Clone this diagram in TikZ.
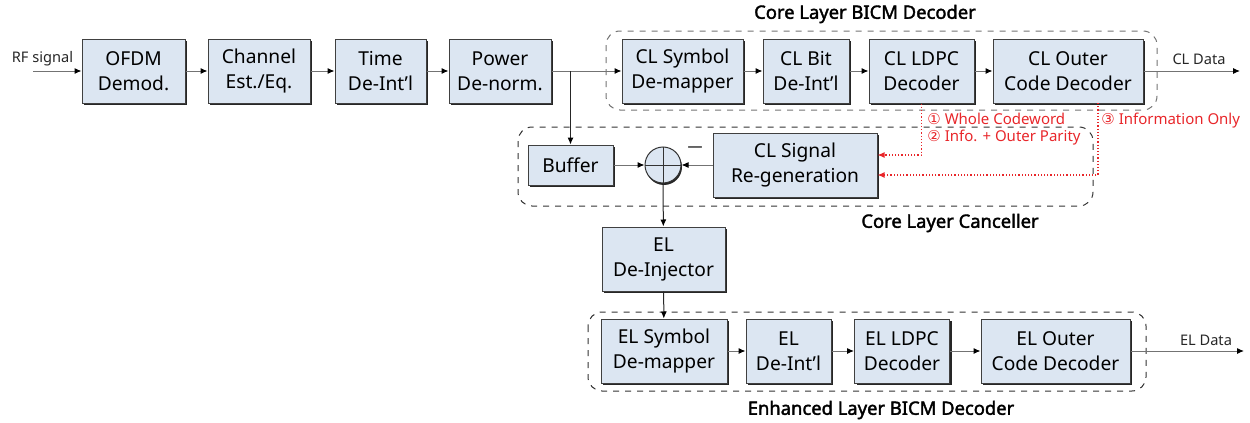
\documentclass[tikz,border=0pt]{standalone}
\usepackage{fontspec}
\setmainfont{Noto Sans}
\newfontfamily\circfont{DejaVu Sans}
\newfontfamily\titlefont{Noto Sans}[FakeBold=2]
\usetikzlibrary{arrows.meta,shadows,calc}
\definecolor{boxfill}{HTML}{DCE6F2}
\definecolor{fbred}{HTML}{E8262A}

\begin{document}
\begin{tikzpicture}[x=0.5pt,y=-0.5pt,
  box/.style={draw=black!75,fill=boxfill,line width=0.5pt,align=center,
    inner sep=0pt,minimum height=32pt,font=\fontsize{9.6}{12.5}\selectfont,
    drop shadow={shadow xshift=1pt,shadow yshift=-1pt,fill=black!85,opacity=1}},
  bw/.style={minimum width=#1*0.5pt},
  group/.style={draw=black!80,dashed,rounded corners=7pt,line width=0.5pt},
  sig/.style={draw=black!55,line width=0.5pt,-{Latex[length=3.5pt,width=3pt,color=black]}},
  lbl/.style={font=\fontsize{7.3}{9}\selectfont,text=black!85},
  title/.style={font=\titlefont\fontsize{9.2}{11}\selectfont},
  fb/.style={draw=fbred,densely dotted,line width=0.6pt,-{Latex[length=3.5pt,width=3pt]}},
  fblbl/.style={font=\fontsize{7.5}{9}\selectfont,text=fbred,anchor=west,inner sep=0pt}]
\useasboundingbox (0,0) rectangle (1250,423);

% dashed groups
\draw[group,draw=black!55] (606,31) rectangle (1157,110);
\draw[group] (518,127) rectangle (1093,206);
\draw[group] (588,312) rectangle (1146,391);
\node[title] (cltitle) at (865,14) {Core Layer BICM Decoder};
\node[title] (canctitle) at (950,223) {Core Layer Canceller};
\node[title] (eltitle) at (881,410) {Enhanced Layer BICM Decoder};

% front end
\node[box,bw=103] (ofdm) at (133.5,71) {OFDM\\Demod.};
\node[box,bw=102] (chest) at (259,71) {Channel\\Est./Eq.};
\node[box,bw=91] (tdeint) at (380.5,71) {Time\\De-Int'l};
\node[box,bw=102] (pdenorm) at (500,71) {Power\\De-norm.};

% core layer BICM
\node[box,bw=121] (clsym) at (682.5,71) {CL Symbol\\De-mapper};
\node[box,bw=86] (clbit) at (806,71) {CL Bit\\De-Int'l};
\node[box,bw=105] (clldpc) at (921.5,71) {CL LDPC\\Decoder};
\node[box,bw=150] (clouter) at (1068,71) {CL Outer\\Code Decoder};

% canceller
\node[box,bw=85,minimum height=20pt] (buffer) at (570.5,165) {Buffer};
\node[circle,draw=black!80,fill=boxfill,line width=0.5pt,minimum size=18pt,
  inner sep=0pt,drop shadow={shadow xshift=0.5pt,shadow yshift=-1pt,
  fill=black!85,opacity=1}] (sum) at (663,165) {};
\draw[black!80,line width=0.5pt] (sum.north) -- (sum.south) (sum.west) -- (sum.east);
\node[font=\fontsize{7.5}{9}\selectfont] (minus) at (695,149) {---};
\node[box,bw=164] (clregen) at (795,165) {CL Signal\\Re-generation};
\node[box,bw=123] (eldeinj) at (663.5,259) {EL\\De-Injector};

% enhanced layer BICM
\node[box,bw=126] (elsym) at (664,351) {EL Symbol\\De-mapper};
\node[box,bw=85] (eldeint) at (788.5,351) {EL\\De-Int'l};
\node[box,bw=95] (elldpc) at (902,351) {EL LDPC\\Decoder};
\node[box,bw=149] (elouter) at (1055.5,351) {EL Outer\\Code Decoder};

% inputs and outputs
\coordinate (rfin) at (33,71);
\coordinate (clout) at (1240,71);
\coordinate (elout) at (1244,351);
\node[lbl] (rflbl) at (42.5,59) {RF signal};
\node[lbl] (cldata) at (1199,59) {CL Data};
\node[lbl] (eldata) at (1206,340) {EL Data};

\draw[sig] (rfin) -- (ofdm);
\draw[sig] (ofdm) -- (chest);
\draw[sig] (chest) -- (tdeint);
\draw[sig] (tdeint) -- (pdenorm);
\draw[sig] (pdenorm) -- (clsym);
\draw[sig] (clsym) -- (clbit);
\draw[sig] (clbit) -- (clldpc);
\draw[sig] (clldpc) -- (clouter);
\draw[sig] (clouter) -- (clout);
\draw[sig,draw=black!85] (buffer.north |- pdenorm.east) -- (buffer.north);
\draw[sig] (buffer) -- (sum);
\draw[sig] (clregen) -- (sum);
\draw[sig,draw=black!85] (sum) -- (eldeinj);
\draw[sig,draw=black!85] (eldeinj) -- (elsym);
\draw[sig] (elsym) -- (eldeint);
\draw[sig] (eldeint) -- (elldpc);
\draw[sig] (elldpc) -- (elouter);
\draw[sig] (elouter) -- (elout);

% feedback to the canceller
\coordinate (fbinfo) at (1098,103);
\draw[fb] (clldpc.south) |- ($(clregen.east)+(0,-10)$);
\draw[fb] (fbinfo) |- ($(clregen.east)+(0,10)$);
\node[fblbl] (lab1) at (927,119) {{\circfont ①} Whole Codeword};
\node[fblbl] (lab2) at (927,138) {{\circfont ②} Info. + Outer Parity};
\node[fblbl] (lab3) at (1101,121) {{\circfont ③} Information Only};
\end{tikzpicture}
\end{document}
